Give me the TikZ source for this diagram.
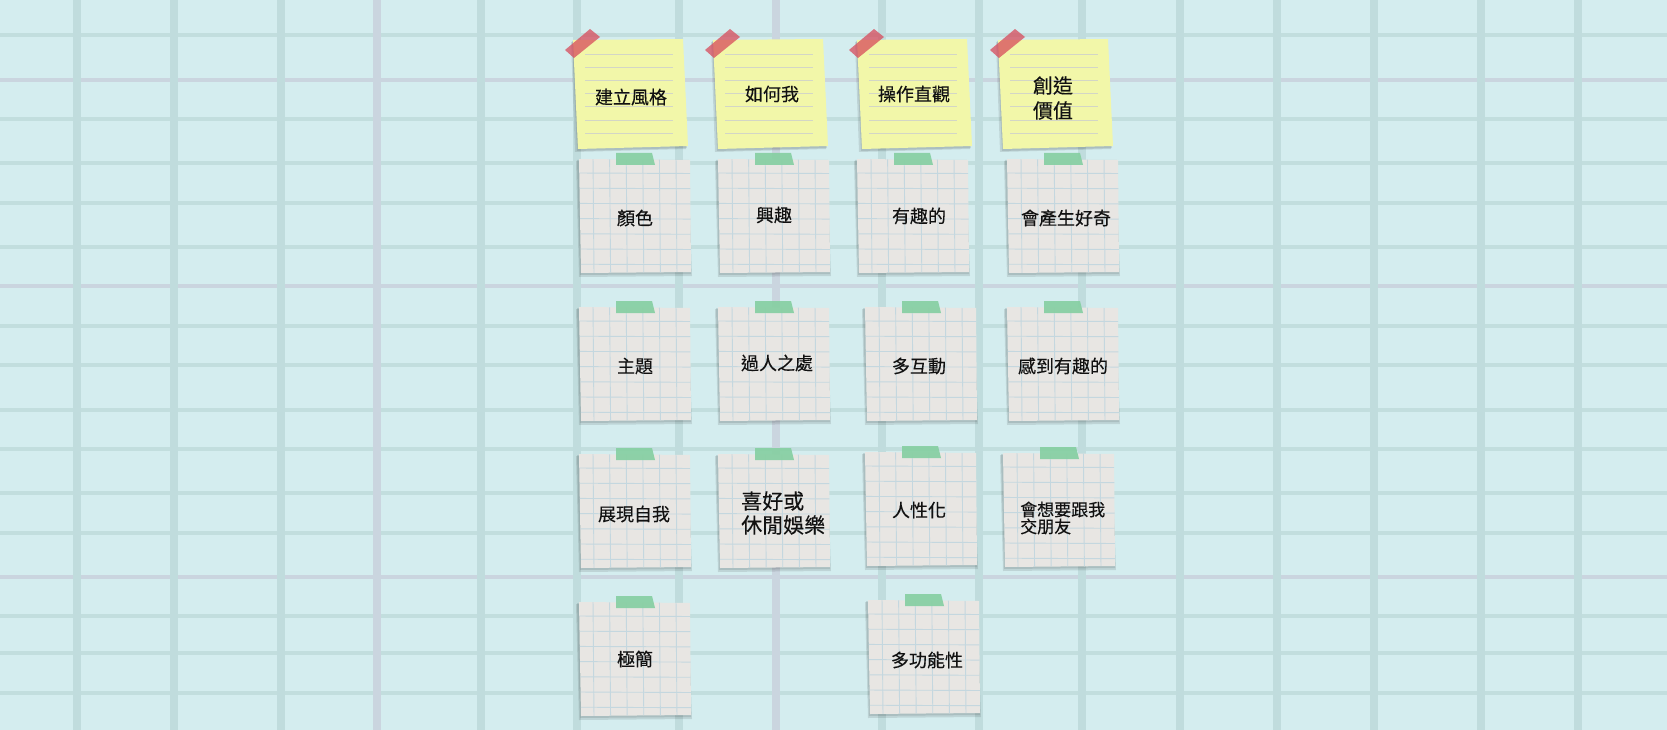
\documentclass[tikz,border=0pt]{standalone}
\usepackage{fontspec}
\newfontfamily\cjk[FakeBold=0.25]{Noto Sans CJK TC}
\definecolor{bgc}{HTML}{D4EDEF}
\definecolor{vline}{HTML}{C0DCDD}
\definecolor{hline}{HTML}{C2DEDE}
\definecolor{lav}{HTML}{CAD5DF}
\definecolor{notegrey}{HTML}{E8E6E3}
\definecolor{gridc}{HTML}{C4D7DF}
\definecolor{yel}{HTML}{F2F7A9}
\definecolor{yline}{HTML}{D3D6C6}
\definecolor{tapeg}{HTML}{86CFA2}
\definecolor{taper}{HTML}{D84B5B}
\definecolor{ink}{HTML}{111111}
\tikzset{
  notetext/.style={font=\cjk\fontsize{18}{22}\selectfont, text=ink, inner sep=0pt, align=left},
  gridline/.style={draw=gridc, line width=0.9pt},
  ruled/.style={draw=yline, line width=0.9pt},
}
\newcommand\greynote[2]{%
 \begin{scope}[shift={(#1,#2)}]
  \fill[black,opacity=0.10] (-59,-55) -- (53,-55) -- (57,60) -- (-56,61) -- cycle;
  \fill[black,opacity=0.10] (-58,-56) -- (54,-56) -- (56,58) -- (-55,59) -- cycle;
  \fill[notegrey] (-56,-57) -- (55,-56) -- (56,56) -- (-54,57) -- cycle;
  \begin{scope}
   \clip (-56,-57) -- (55,-56) -- (56,56) -- (-54,57) -- cycle;
   \foreach \gx in {-42,-25.4,...,56} \draw[gridline] (\gx,-60) -- (\gx+1,60);
   \foreach \gy in {-43,-27.8,...,57} \draw[gridline] (-60,\gy) -- (60,\gy+0.5);
  \end{scope}
  \fill[tapeg,opacity=0.92] (-19,-63) -- (17,-63) -- (20,-51) -- (-19,-51) -- cycle;
 \end{scope}
}
\newcommand\yellownote[2]{%
 \begin{scope}[shift={(#1,#2)}]
  \fill[black,opacity=0.10] (-60,-52) -- (50,-53) -- (55,55) -- (-56,58) -- cycle;
  \fill[black,opacity=0.10] (-59,-53) -- (51,-54) -- (56,54) -- (-54,57) -- cycle;
  \fill[yel] (-58,-54) -- (52,-55) -- (57,52) -- (-53,55) -- cycle;
  \foreach \ly in {-40,-26.8,...,40} \draw[ruled] (-46,\ly) -- (42,\ly);
  \fill[taper,opacity=0.75] (-66,-44) -- (-41,-65) -- (-31,-57) -- (-57,-36) -- cycle;
 \end{scope}
}
\begin{document}
\begin{tikzpicture}[x=1pt,y=-1pt]
\useasboundingbox (0,0) rectangle (1667,730);
\fill[bgc] (0,0) rectangle (1667,730);
% horizontal lines
\foreach \hy in {35,119,163,203,247,326,365,410,449,493,533,616,653,693}
  \draw[hline,line width=3.5pt] (0,\hy) -- (1667,\hy);
\foreach \hy in {80,286,577}
  \draw[lav,line width=3.5pt] (0,\hy) -- (1667,\hy);
% vertical lines
\foreach \vx in {77,174,281,481,577,679,882,979,1082,1180,1277,1374,1481,1578}
  \draw[vline,line width=8pt] (\vx,0) -- (\vx,730);
\foreach \vx in {377,776}
  \draw[lav,line width=8pt] (\vx,0) -- (\vx,730);

% yellow notes
\yellownote{631}{94}
\yellownote{771}{94}
\yellownote{915}{94}
\yellownote{1056}{94}
\node[notetext] (y1) at (631,97) {建立風格};
\node[notetext] (y2) at (772,94) {如何我};
\node[notetext] (y3) at (914,94) {操作直觀};
\node[notetext, font=\cjk\fontsize{20}{25}\selectfont] (y4) at (1053,98) {創造\\價值};

% grey notes
\greynote{635}{216}
\greynote{774}{216}
\greynote{913}{216}
\greynote{1063}{216}
\greynote{635}{364}
\greynote{774}{364}
\greynote{921}{364}
\greynote{1063}{364}
\greynote{635}{511}
\greynote{774}{511}
\greynote{921}{509}
\greynote{1059}{510}
\greynote{635}{659}
\greynote{924}{657}

\node[notetext] (g11) at (635,218) {顏色};
\node[notetext] (g12) at (774,215) {興趣};
\node[notetext] (g13) at (919,216) {有趣的};
\node[notetext] (g14) at (1066,218) {會產生好奇};
\node[notetext] (g21) at (635,366) {主題};
\node[notetext] (g22) at (777,363) {過人之處};
\node[notetext] (g23) at (919,366) {多互動};
\node[notetext] (g24) at (1063,366) {感到有趣的};
\node[notetext] (g31) at (634,514) {展現自我};
\node[notetext, font=\cjk\fontsize{21}{24}\selectfont, anchor=west] (g32) at (741,513) {喜好或\\休閒娛樂};
\node[notetext] (g33) at (919,510) {人性化};
\node[notetext, font=\cjk\fontsize{17}{17}\selectfont, anchor=west] (g34) at (1020,518) {會想要跟我\\交朋友};
\node[notetext] (g41) at (635,659) {極簡};
\node[notetext] (g43) at (927,660) {多功能性};
\end{tikzpicture}
\end{document}
